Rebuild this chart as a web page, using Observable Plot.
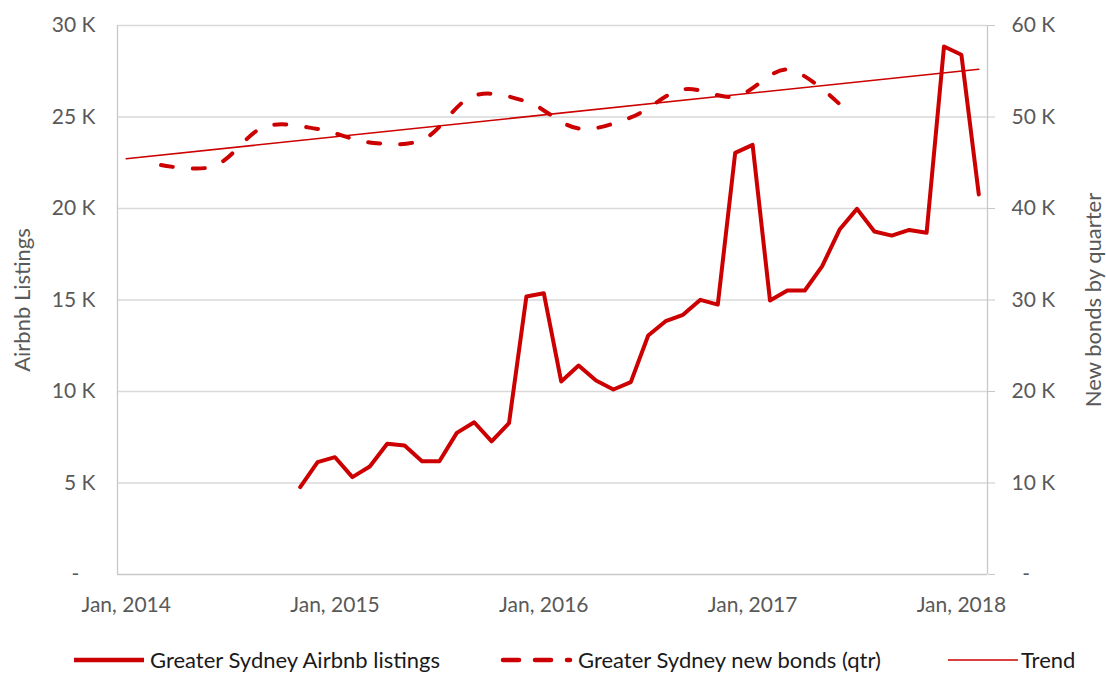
<!DOCTYPE html>
<html>
<head>
<meta charset="utf-8">
<script src="https://cdn.jsdelivr.net/npm/d3@7"></script>
<script src="https://cdn.jsdelivr.net/npm/@observablehq/plot@0.6"></script>
<style>
  html, body { margin: 0; padding: 0; background: #fff; }
  #wrap { position: relative; width: 1106px; height: 673px; overflow: hidden; font-family: Lato, "Liberation Sans", sans-serif; }
  .leg { position: absolute; top: 647px; height: 26px; font-size: 22px; color: #1a1a1a; white-space: nowrap; line-height: 26px; }
  .sw { position: absolute; top: 648px; }
</style>
</head>
<body>
<div id="wrap"></div>
<script>
// ---- data ----
const listingMonths = ["2014-11","2014-12",
  "2015-01","2015-02","2015-03","2015-04","2015-05","2015-06","2015-07","2015-08","2015-09","2015-10","2015-11","2015-12",
  "2016-01","2016-02","2016-03","2016-04","2016-05","2016-06","2016-07","2016-08","2016-09","2016-10","2016-11","2016-12",
  "2017-01","2017-02","2017-03","2017-04","2017-05","2017-06","2017-07","2017-08","2017-09","2017-10","2017-11","2017-12",
  "2018-01","2018-02"];
const listingValues = [4770, 6140,
  6410, 5320, 5900, 7140, 7050, 6190, 6190, 7740, 8320, 7280, 8270, 15190,
  15370, 10550, 11420, 10600, 10110, 10510, 13060, 13840, 14190, 15010, 14750, 23040,
  23480, 14970, 15520, 15520, 16850, 18850, 19980, 18740, 18520, 18830, 18670, 28850,
  28400, 20770];

const bondQuarters = ["2014-03","2014-06","2014-09","2014-12","2015-03","2015-06","2015-09","2015-12",
  "2016-03","2016-06","2016-09","2016-12","2017-03","2017-06"];
const bondValues = [44750, 44590, 48960, 48690, 47210, 47490, 52350, 51690,
  48740, 49950, 53010, 52240, 55190, 51400];

const trendMonths = ["2014-01","2018-02"];
const trendValues = [45440, 55220];

const leftTicks = [0, 5000, 10000, 15000, 20000, 25000, 30000];
const xTickMonths = ["2014-01","2015-01","2016-01","2017-01","2018-01"];
const xTickLabels = ["Jan, 2014","Jan, 2015","Jan, 2016","Jan, 2017","Jan, 2018"];

const seriesNames = ["Greater Sydney Airbnb listings", "Greater Sydney new bonds (qtr)", "Trend"];

// ---- helpers ----
const mIdx = s => (+s.slice(0, 4) - 2014) * 12 + (+s.slice(5, 7) - 1);
const RED = "#cc0000";
const listings = listingMonths.map((m, i) => ({x: mIdx(m), v: listingValues[i]}));
const bonds = bondQuarters.map((m, i) => ({x: mIdx(m), v: bondValues[i] / 2}));
const trend = trendMonths.map((m, i) => ({x: mIdx(m), v: trendValues[i] / 2}));
const fmtK = d => d === 0 ? "-\u00a0\u00a0\u00a0" : (d / 1000) + " K";
const fmtK2 = d => d === 0 ? "\u00a0\u00a0-" : (d * 2 / 1000) + " K";
const xTicks = xTickMonths.map(mIdx);

const chart = Plot.plot({
  width: 1106,
  height: 625,
  marginLeft: 117,
  marginRight: 119,
  marginTop: 25,
  marginBottom: 51,
  style: {fontFamily: "Lato, 'Liberation Sans', sans-serif", fontSize: "21px", color: "#595959", background: "#fff"},
  x: {type: "linear", domain: [-0.5, 49.5]},
  y: {domain: [0, 30000]},
  marks: [
    Plot.gridY(leftTicks.slice(1), {stroke: "#d9d9d9", strokeOpacity: 1, strokeWidth: 1.3}),
    Plot.ruleY([0], {stroke: "#c8c8c8", strokeWidth: 1.3}),
    Plot.ruleX([-0.5, 49.5], {stroke: "#c8c8c8", strokeWidth: 1.3}),
    Plot.axisY({anchor: "left", ticks: leftTicks, tickSize: 0, tickPadding: 22, tickFormat: fmtK,
      fill: "#595959", label: null}),
    Plot.axisY({anchor: "right", ticks: leftTicks, tickSize: 7, tickPadding: 17, tickFormat: fmtK2,
      stroke: "#c8c8c8", fill: "#595959", label: null}),
    Plot.axisX({ticks: xTicks, tickSize: 0, tickPadding: 23, tickFormat: d => xTickLabels[xTicks.indexOf(d)],
      fill: "#595959", label: null}),
    Plot.text(["Airbnb Listings"], {frameAnchor: "left", dx: -95, rotate: -90, fontSize: 22, fill: "#595959", textAnchor: "middle"}),
    Plot.text(["New bonds by quarter"], {frameAnchor: "right", dx: 106, rotate: -90, fontSize: 22, fill: "#595959", textAnchor: "middle"}),
    Plot.line(listings, {x: "x", y: "v", stroke: RED, strokeWidth: 4, strokeLinejoin: "round", strokeLinecap: "round"}),
    Plot.line(bonds, {x: "x", y: "v", stroke: RED, strokeWidth: 4, curve: "catmull-rom",
      strokeDasharray: "12,20", strokeLinecap: "round"}),
    Plot.line(trend, {x: "x", y: "v", stroke: RED, strokeWidth: 1.6})
  ]
});

const wrap = document.getElementById("wrap");
wrap.appendChild(chart);

// ---- legend ----
function swatch(left, width, strokeW, dash) {
  const ns = "http://www.w3.org/2000/svg";
  const s = document.createElementNS(ns, "svg");
  s.setAttribute("width", width + 6);
  s.setAttribute("height", 24);
  s.setAttribute("class", "sw");
  s.style.left = (left - 3) + "px";
  const l = document.createElementNS(ns, "line");
  l.setAttribute("x1", 3); l.setAttribute("x2", 3 + width);
  l.setAttribute("y1", 12); l.setAttribute("y2", 12);
  l.setAttribute("stroke", RED);
  l.setAttribute("stroke-width", strokeW);
  if (dash) { l.setAttribute("stroke-dasharray", dash); l.setAttribute("stroke-linecap", "round"); }
  s.appendChild(l);
  wrap.appendChild(s);
}
function label(left, text) {
  const d = document.createElement("div");
  d.className = "leg";
  d.style.left = left + "px";
  d.textContent = text;
  wrap.appendChild(d);
}
swatch(74, 70, 4.5, null);
label(150, seriesNames[0]);
swatch(503, 67, 4.5, "16,16");
label(578, seriesNames[1]);
swatch(948, 70, 1.6, null);
label(1021, seriesNames[2]);
</script>
</body>
</html>
